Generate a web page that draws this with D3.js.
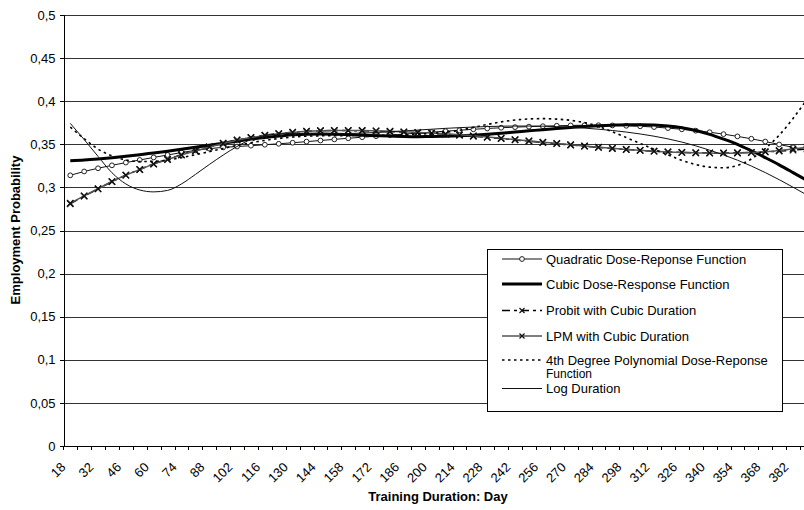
<!DOCTYPE html>
<html>
<head>
<meta charset="utf-8">
<script src="https://cdn.jsdelivr.net/npm/d3@7"></script>
<style>
  html, body { margin: 0; padding: 0; background: #fff; }
  svg { display: block; font-family: "Liberation Sans", Arial, sans-serif; }
</style>
</head>
<body>
<svg id="chart" width="804" height="510"></svg>
<script>
// ---- data ----
const days = [18,25,32,39,46,53,60,67,74,81,88,95,102,109,116,123,130,137,144,151,158,165,172,179,186,193,200,207,214,221,228,235,242,249,256,263,270,277,284,291,298,305,312,319,326,333,340,347,354,361,368,375,382,389];
const yTicks = [0,0.05,0.1,0.15,0.2,0.25,0.3,0.35,0.4,0.45,0.5];

const quadratic = [.3140,.3185,.3222,.3256,.3288,.3318,.3348,.3376,.3404,.3430,.3450,.3464,.3474,.3484,.3495,.3506,.3518,.3531,.3544,.3557,.3570,.3582,.3594,.3606,.3618,.3630,.3641,.3652,.3663,.3674,.3684,.3692,.3699,.3705,.3710,.3715,.3719,.3721,.3721,.3719,.3715,.3709,.3700,.3688,.3674,.3658,.3640,.3618,.3592,.3564,.3532,.3498,.3465,.3432];
const cubic = [.3310,.3318,.3330,.3345,.3362,.3380,.3400,.3420,.3442,.3465,.3488,.3512,.3536,.3560,.3580,.3595,.3610,.3618,.3620,.3618,.3613,.3606,.3600,.3595,.3591,.3589,.3590,.3593,.3598,.3606,.3616,.3628,.3642,.3656,.3670,.3683,.3695,.3706,.3715,.3722,.3727,.3728,.3724,.3713,.3693,.3660,.3615,.3560,.3500,.3425,.3345,.3262,.3172,.3080];
const probit = [.2810,.2898,.2982,.3066,.3142,.3208,.3272,.3326,.3380,.3427,.3472,.3514,.3551,.3580,.3605,.3624,.3640,.3651,.3657,.3659,.3659,.3657,.3653,.3647,.3641,.3634,.3626,.3616,.3605,.3593,.3580,.3566,.3551,.3536,.3521,.3507,.3492,.3478,.3464,.3451,.3440,.3429,.3420,.3412,.3406,.3402,.3400,.3400,.3402,.3406,.3412,.3421,.3432,.3445];
const lpm = [.2816,.2902,.2985,.3068,.3142,.3207,.3270,.3322,.3376,.3422,.3468,.3510,.3548,.3577,.3603,.3622,.3638,.3650,.3657,.3660,.3661,.3660,.3656,.3651,.3645,.3638,.3630,.3621,.3610,.3598,.3585,.3570,.3555,.3540,.3525,.3510,.3495,.3480,.3466,.3453,.3441,.3430,.3420,.3412,.3406,.3401,.3398,.3397,.3399,.3404,.3414,.3428,.3446,.3468];
const quartic = [.3700,.3565,.3445,.3365,.3318,.3300,.3302,.3318,.3345,.3378,.3415,.3452,.3487,.3518,.3545,.3567,.3584,.3594,.3598,.3600,.3601,.3602,.3604,.3606,.3610,.3617,.3627,.3640,.3662,.3695,.3730,.3760,.3782,.3794,.3798,.3792,.3778,.3752,.3708,.3645,.3578,.3510,.3442,.3378,.3315,.3265,.3235,.3228,.3255,.3330,.3450,.3605,.3800,.4020];
const logDur = [.3743,.3555,.3360,.3170,.3040,.2970,.2948,.2965,.3040,.3150,.3265,.3375,.3475,.3555,.3600,.3620,.3626,.3626,.3624,.3623,.3625,.3630,.3637,.3645,.3655,.3665,.3675,.3685,.3693,.3700,.3706,.3710,.3712,.3712,.3710,.3705,.3698,.3688,.3675,.3660,.3642,.3620,.3594,.3563,.3526,.3482,.3432,.3377,.3316,.3248,.3172,.3090,.3002,.2912];

const seriesNames = ["Quadratic Dose-Reponse Function","Cubic Dose-Response Function","Probit with Cubic Duration","LPM with Cubic Duration","4th Degree Polynomial Dose-Reponse Function","Log Duration"];

// ---- layout ----
const svg = d3.select("#chart");
const plotL = 63.3, plotT = 15, plotB = 446;
const bw = 13.9;
const x = d3.scaleBand().domain(days).range([plotL, plotL + days.length * bw]).padding(0);
const cx = d => x(d) + x.bandwidth() / 2;
const y = d3.scaleLinear().domain([0, 0.5]).range([plotB, plotT]);
const locale = d3.formatLocale({decimal: ",", thousands: ".", grouping: [3], currency: ["", ""]});
const fmt = locale.format(".2~f");

// gridlines
svg.append("g").selectAll("line").data(yTicks.filter(v => v > 0)).join("line")
  .attr("x1", plotL).attr("x2", 804)
  .attr("y1", d => Math.round(y(d)) + 0.5).attr("y2", d => Math.round(y(d)) + 0.5)
  .attr("stroke", "#333").attr("stroke-width", 1).attr("shape-rendering", "crispEdges");

// y axis
const yAxis = d3.axisLeft(y).tickValues(yTicks).tickFormat(fmt).tickSize(4).tickPadding(4);
const gy = svg.append("g").attr("transform", `translate(${Math.round(plotL) + 0.5},0)`).call(yAxis);
gy.select(".domain").attr("stroke", "#000").attr("shape-rendering", "crispEdges");
gy.selectAll(".tick line").attr("stroke", "#000").attr("shape-rendering", "crispEdges");
gy.selectAll(".tick text").attr("font-size", 13).attr("fill", "#000")
  .attr("font-family", "'Liberation Sans', Arial, sans-serif");

// x axis: boundary ticks via band scale
const gx = svg.append("g");
gx.append("line").attr("x1", plotL).attr("x2", 804).attr("y1", plotB + 0.5).attr("y2", plotB + 0.5)
  .attr("stroke", "#000").attr("shape-rendering", "crispEdges");
const bounds = days.map(d => x(d)).concat([x(days[days.length - 1]) + x.bandwidth()]);
gx.selectAll("line.tk").data(bounds).join("line").attr("class", "tk")
  .attr("x1", d => Math.round(d) + 0.5).attr("x2", d => Math.round(d) + 0.5)
  .attr("y1", plotB).attr("y2", plotB + 4)
  .attr("stroke", "#000").attr("shape-rendering", "crispEdges");
gx.selectAll("text").data(days.filter((d, i) => i % 2 === 0)).join("text")
  .attr("transform", d => `translate(${cx(d) - 3.8},${plotB + 22}) rotate(-45)`)
  .attr("text-anchor", "end").attr("font-size", 13).attr("fill", "#000")
  .text(d => d);

// axis titles
svg.append("text").attr("x", 438).attr("y", 501).attr("text-anchor", "middle")
  .attr("font-size", 13).attr("font-weight", "bold").text("Training Duration: Day");
svg.append("text").attr("transform", "translate(20,230) rotate(-90)").attr("text-anchor", "middle")
  .attr("font-size", 13).attr("font-weight", "bold").text("Employment Probability");

// series
const mk = vals => days.map((d, i) => ({d, v: vals[i]}));
const line = d3.line().x(p => cx(p.d)).y(p => y(p.v)).curve(d3.curveMonotoneX);
const xPath = "M-3.2,-3.2L3.2,3.2M-3.2,3.2L3.2,-3.2";

const styles = [
  {vals: quadratic, stroke: "#111", w: 1, dash: null, marker: "circle"},
  {vals: cubic, stroke: "#000", w: 3, dash: null, marker: null},
  {vals: probit, stroke: "#000", w: 1.5, dash: "8,4,3,4", marker: "x"},
  {vals: lpm, stroke: "#555", w: 1.5, dash: null, marker: "x"},
  {vals: quartic, stroke: "#000", w: 1.6, dash: "2.5,3.5", marker: null},
  {vals: logDur, stroke: "#111", w: 1, dash: null, marker: null}
];

const gs = svg.append("g");
styles.forEach(s => {
  const data = mk(s.vals);
  gs.append("path").datum(data).attr("d", line).attr("fill", "none")
    .attr("stroke", s.stroke).attr("stroke-width", s.w)
    .attr("stroke-dasharray", s.dash);
  if (s.marker === "circle") {
    gs.append("g").selectAll("circle").data(data).join("circle")
      .attr("cx", p => cx(p.d)).attr("cy", p => y(p.v)).attr("r", 2.4)
      .attr("fill", "#fff").attr("stroke", "#222").attr("stroke-width", 1);
  } else if (s.marker === "x") {
    gs.append("g").selectAll("path").data(data).join("path")
      .attr("transform", p => `translate(${cx(p.d)},${y(p.v)})`).attr("d", xPath)
      .attr("fill", "none").attr("stroke", "#111").attr("stroke-width", 1.3);
  }
});

// legend
const lg = svg.append("g");
lg.append("rect").attr("x", 487.5).attr("y", 249.5).attr("width", 295).attr("height", 162)
  .attr("fill", "#fff").attr("stroke", "#000").attr("stroke-width", 1);
const rows = [259, 284, 310.5, 336, 360, 388.5];
styles.forEach((s, i) => {
  const ry = rows[i];
  lg.append("line").attr("x1", 502).attr("x2", 542).attr("y1", ry).attr("y2", ry)
    .attr("stroke", s.stroke).attr("stroke-width", s.w).attr("stroke-dasharray", s.dash);
  if (s.marker === "circle") {
    lg.append("circle").attr("cx", 522).attr("cy", ry).attr("r", 2.4)
      .attr("fill", "#fff").attr("stroke", "#222");
  } else if (s.marker === "x") {
    lg.append("path").attr("transform", `translate(522,${ry})`).attr("d", "M-2.5,-2.5L2.5,2.5M-2.5,2.5L2.5,-2.5")
      .attr("stroke", "#111").attr("stroke-width", 1.2);
  }
  const name = seriesNames[i];
  if (i === 4) {
    lg.append("text").attr("x", 546).attr("y", ry).attr("dy", "0.35em").attr("font-size", 13)
      .text("4th Degree Polynomial Dose-Reponse");
    lg.append("text").attr("x", 546).attr("y", ry + 14.2).attr("dy", "0.35em").attr("font-size", 12)
      .text("Function");
  } else {
    lg.append("text").attr("x", 546).attr("y", ry).attr("dy", "0.35em").attr("font-size", 13)
      .text(name);
  }
});
</script>
</body>
</html>
